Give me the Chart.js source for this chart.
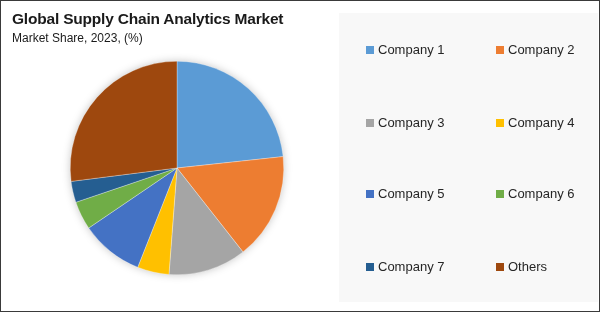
<!DOCTYPE html>
<html>
<head>
<meta charset="utf-8">
<script src="https://cdn.jsdelivr.net/npm/chart.js@4.4.1/dist/chart.umd.min.js"></script>
<style>
  body { margin: 0; background: #fff; font-family: "Liberation Sans", Arial, sans-serif; }
  #frame { position: relative; width: 598px; height: 310px; border: 1px solid #3a3a3a; overflow: hidden; }
  #chartWrap { position: absolute; left: -1px; top: -1px; width: 600px; height: 312px; }
  #title { position: absolute; left: 11px; top: 9px; font-size: 15.5px; font-weight: bold; color: #1a1a1a; letter-spacing: -0.2px; }
  #subtitle { position: absolute; left: 11px; top: 30px; font-size: 12px; color: #1a1a1a; }
  #legendPanel { position: absolute; left: 338px; top: 12px; width: 259px; height: 289px; background: #f8f8f8; }
  .item { position: absolute; font-size: 13px; color: #262626; white-space: nowrap; }
  .item span.box { display: inline-block; width: 8px; height: 8px; margin-right: 4px; vertical-align: 0px; }
</style>
</head>
<body>
<div id="frame">
  <div id="legendPanel"></div>
  <div id="chartWrap"><canvas id="marketChart"></canvas></div>
  <div id="title">Global Supply Chain Analytics Market</div>
  <div id="subtitle">Market Share, 2023, (%)</div>
  <div id="legend"></div>
</div>
<script>
const companies = ['Company 1', 'Company 2', 'Company 3', 'Company 4', 'Company 5', 'Company 6', 'Company 7', 'Others'];
const shares = [23.3, 16.1, 11.8, 4.8, 9.5, 4.3, 3.2, 27.0];
const colors = ['#5b9bd5', '#ed7d31', '#a5a5a5', '#ffc000', '#4472c4', '#70ad47', '#255e91', '#9e480e'];

// soft shadow under the whole pie
const pieShadow = {
  id: 'pieShadow',
  beforeDatasetsDraw(chart) {
    const arc = chart.getDatasetMeta(0).data[0];
    if (!arc) return;
    const ctx = chart.ctx;
    ctx.save();
    ctx.shadowColor = 'rgba(0,0,0,0.28)';
    ctx.shadowBlur = 10;
    ctx.fillStyle = '#ffffff';
    ctx.beginPath();
    ctx.arc(arc.x, arc.y, arc.outerRadius - 1, 0, Math.PI * 2);
    ctx.fill();
    ctx.restore();
  }
};

const chart = new Chart(document.getElementById('marketChart'), {
  type: 'pie',
  data: {
    labels: companies,
    datasets: [{
      data: shares,
      backgroundColor: colors,
      borderColor: 'rgba(255,255,255,0.6)',
      borderWidth: 0.5
    }]
  },
  options: {
    responsive: true,
    maintainAspectRatio: false,
    animation: false,
    layout: { padding: { left: 70, right: 316, top: 61, bottom: 37 } },
    plugins: {
      legend: { display: false },
      tooltip: { enabled: false }
    }
  },
  plugins: [pieShadow]
});

// two-column legend built from the chart data
const legend = document.getElementById('legend');
const rowTops = [41, 114, 185, 258];
chart.data.labels.forEach((label, i) => {
  const el = document.createElement('div');
  el.className = 'item';
  el.style.left = (i % 2 === 0 ? 365 : 495) + 'px';
  el.style.top = rowTops[Math.floor(i / 2)] + 'px';
  el.innerHTML = '<span class="box" style="background:' + chart.data.datasets[0].backgroundColor[i] + '"></span>' + label;
  legend.appendChild(el);
});
</script>
</body>
</html>
